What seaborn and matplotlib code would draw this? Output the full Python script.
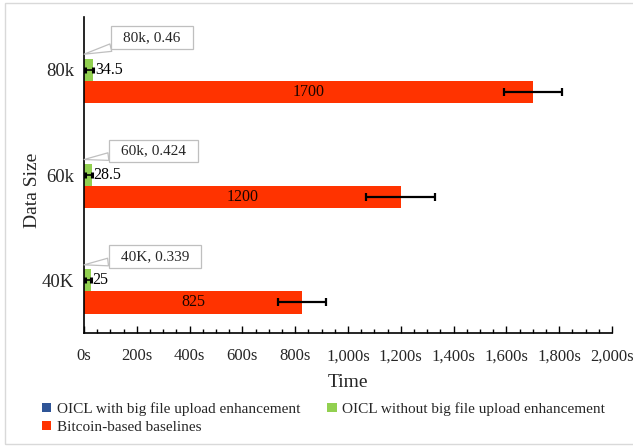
import matplotlib
matplotlib.use("Agg")
import matplotlib.pyplot as plt
import seaborn as sns
import pandas as pd
import numpy as np
from matplotlib.ticker import MultipleLocator, FuncFormatter
from matplotlib.path import Path
from matplotlib.patches import Rectangle

# ---- data ----
categories = ["80k", "60k", "40K"]
series = ["OICL with big file upload enhancement",
          "OICL without big file upload enhancement",
          "Bitcoin-based baselines"]
with_enh = [0.46, 0.424, 0.339]
without_enh = [34.5, 28.5, 25]
baseline = [1700, 1200, 825]
baseline_err = [110, 130, 90]
without_err_lo = [31, 26, 23]
without_err_hi = [1, 1, 1]
callout_labels = ["80k, 0.46", "60k, 0.424", "40K, 0.339"]
x_ticks = [0, 200, 400, 600, 800, 1000, 1200, 1400, 1600, 1800, 2000]
colors = ["#2f5597", "#92d050", "#ff3300"]

df = pd.DataFrame({
    "size": categories * 3,
    "time": with_enh + without_enh + baseline,
    "series": [series[0]] * 3 + [series[1]] * 3 + [series[2]] * 3,
})

sns.set_style("white")
plt.rcParams["font.family"] = ["Liberation Serif", "DejaVu Serif"]

fig = plt.figure(figsize=(6.33, 4.46), dpi=100)
ax = fig.add_axes([84 / 633, 1 - 333 / 446, (612 - 84) / 633, (333 - 17) / 446])

sns.barplot(data=df, y="size", x="time", hue="series", orient="h",
            order=categories, hue_order=series, palette=colors,
            width=0.63, errorbar=None, saturation=1, linewidth=0, ax=ax)

handles, labels = ax.get_legend_handles_labels()
ax.get_legend().remove()

conts = ax.containers
# error bars
g_cont, r_cont = conts[1], conts[2]
gy = [b.get_y() + b.get_height() / 2 for b in g_cont]
ry = [b.get_y() + b.get_height() / 2 for b in r_cont]
ax.errorbar(without_enh, gy, xerr=[without_err_lo, without_err_hi], fmt="none",
            ecolor="black", elinewidth=1.2, capsize=2, capthick=2.2, zorder=5)
ax.errorbar(baseline, ry, xerr=baseline_err, fmt="none",
            ecolor="black", elinewidth=1.6, capsize=3, capthick=1.6, zorder=5)

# value labels
ax.bar_label(g_cont, fmt="%g", label_type="edge", padding=1.5, fontsize=11.5, color="black")
ax.bar_label(r_cont, fmt="%g", label_type="center", fontsize=11.5, color="#1a0500")

# callouts for the (tiny) blue bars
def wide_box(x0, y0, width, height, mutation_size):
    px = 0.8 * mutation_size
    py = 0.3 * mutation_size
    verts = [(x0 - px, y0 - py), (x0 + width + px, y0 - py),
             (x0 + width + px, y0 + height + py), (x0 - px, y0 + height + py),
             (x0 - px, y0 - py)]
    return Path(verts, closed=True)

offsets = [(49, 12), (50, 6), (51, 6)]
for bar, val, lab, off in zip(conts[0], with_enh, callout_labels, offsets):
    yy = bar.get_y() + bar.get_height() * 0.8
    ax.annotate(lab, xy=(val, yy), xytext=off, textcoords="offset points",
                ha="center", va="center", fontsize=11, zorder=6,
                bbox=dict(boxstyle=wide_box, fc="white", ec="#bfbfbf", lw=0.9),
                arrowprops=dict(arrowstyle="wedge,tail_width=0.5,shrink_factor=0.5",
                                fc="white", ec="#bfbfbf", lw=0.9,
                                shrinkA=0, shrinkB=0))

# axes styling
ax.set_xlim(0, 2000)
ax.set_ylim(2.5, -0.5)
ax.set_xticks(x_ticks)
ax.xaxis.set_minor_locator(MultipleLocator(50))
ax.xaxis.set_major_formatter(FuncFormatter(lambda v, p: f"{v:,.0f}s"))
ax.set_yticks([-0.5, 0.5, 1.5, 2.5])
ax.set_yticks([0, 1, 2], labels=categories, minor=True)
ax.tick_params(axis="y", which="major", direction="in", length=5, width=1,
               labelleft=False, color="black")
ax.tick_params(axis="y", which="minor", length=0, pad=7, labelsize=13.5)
ax.tick_params(axis="x", which="major", direction="in", length=5, width=1,
               pad=11, labelsize=12, color="black", bottom=True)
ax.tick_params(axis="x", which="minor", direction="in", length=3, width=1,
               color="black", bottom=True)
for s in ["top", "right"]:
    ax.spines[s].set_visible(False)
for s in ["left", "bottom"]:
    ax.spines[s].set_color("black")
    ax.spines[s].set_linewidth(1.2)

ax.set_xlabel("Time", fontsize=14, labelpad=7)
ax.set_ylabel("Data Size", fontsize=14)
ax.yaxis.set_label_coords(-0.082, 0.45)

# row-major legend order: blue, green / red
order = [0, 2, 1]
fig.legend([handles[i] for i in order], [labels[i] for i in order],
           loc="upper left", bbox_to_anchor=(42 / 633, 1 - 402 / 446),
           ncol=2, frameon=False, fontsize=11, handlelength=0.6, handleheight=0.6,
           handletextpad=0.35, columnspacing=1.8, labelspacing=0.32,
           borderpad=0, borderaxespad=0)

# light outer frame
fig.patches.append(Rectangle((5 / 633, 2 / 446), 1.2, 1 - 5 / 446, transform=fig.transFigure,
                             fill=False, ec="#d9d9d9", lw=1.0))

fig.savefig("out.png", dpi=100)
